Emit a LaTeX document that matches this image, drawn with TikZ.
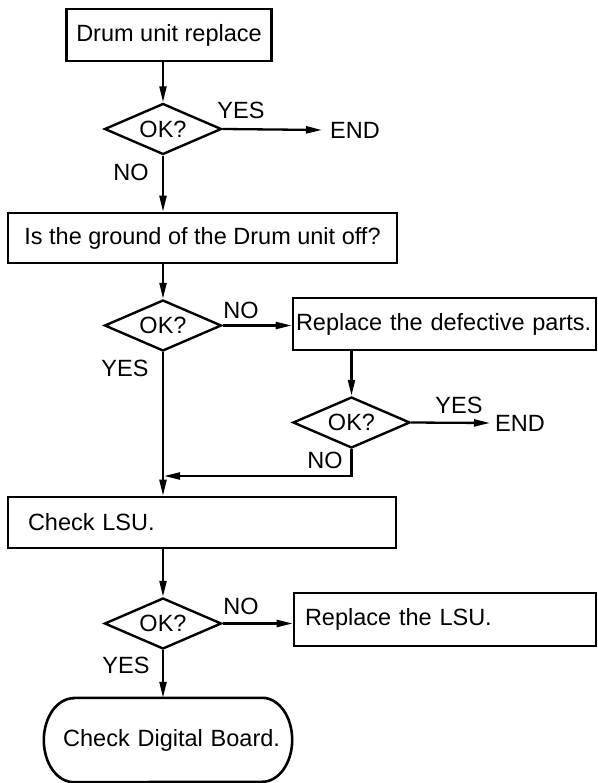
\documentclass[tikz,border=0pt]{standalone}
\usepackage{fontspec}
\setmainfont{Liberation Sans}
\usetikzlibrary{shapes.geometric, arrows.meta, positioning, calc}

\begin{document}
\begin{tikzpicture}[
    x=1pt, y=-1pt,
    font=\fontsize{23.5}{27}\selectfont,
    box/.style={rectangle, draw, line width=2.6pt, inner sep=0pt, text centered},
    decision/.style={diamond, draw, line width=2.4pt, aspect=2.3, minimum width=117pt, minimum height=51pt, inner sep=0pt},
    arrow/.style={-{Triangle[length=16pt,width=7pt]}, line width=2.3pt},
    lbl/.style={inner sep=0pt}
]
    \useasboundingbox (0,0) rectangle (597,783);

    \node[box, minimum width=205pt, minimum height=52pt] (drum) at (169,35) {Drum unit replace};
    \node[decision] (ok1) at (163,129) {OK?};
    \node[lbl, anchor=west] (end1) at (330,130) {END};
    \node[box, minimum width=389pt, minimum height=50pt] (ground) at (202.5,238) {Is the ground of the Drum unit off?};
    \node[decision] (ok2) at (163,325.5) {OK?};
    \node[box, align=left, text width=297pt, inner xsep=3pt, minimum height=52pt] (parts) at (444.5,324) {Replace the defective parts.};
    \node[decision] (ok3) at (351.5,422.5) {OK?};
    \node[lbl, anchor=west] (end3) at (495,423) {END};
    \node[box, align=left, text width=348pt, inner xsep=20pt, minimum height=51pt] (lsu) at (202,522.5) {Check LSU.};
    \node[decision] (ok4) at (163,623.5) {OK?};
    \node[box, align=left, text width=280pt, inner xsep=11pt, minimum height=53pt] (replsu) at (445,619.5) {Replace the LSU.};
    \node[align=right, text width=224pt, inner xsep=12pt, minimum height=84pt] (board) at (168,740) {Check Digital Board.};

    % branch labels
    \node[lbl] (yes1) at (241,110) {YES};
    \node[lbl] (no1) at (131,172) {NO};
    \node[lbl] (no2) at (241,310) {NO};
    \node[lbl] (yes2) at (125,368) {YES};
    \node[lbl] (yes3) at (459,405) {YES};
    \node[lbl] (no3) at (325,460) {NO};
    \node[lbl] (no4) at (241,606) {NO};
    \node[lbl] (yes4) at (126,665) {YES};

    \coordinate (merge) at (163,476);

    \draw[line width=2.6pt] ([xshift=30pt]board.north west) -- ([xshift=-30pt]board.north east)
        arc[start angle=90, end angle=-90, x radius=30pt, y radius=42pt]
        -- ([xshift=30pt]board.south west)
        arc[start angle=270, end angle=90, x radius=30pt, y radius=42pt] -- cycle;

    \draw[arrow] (drum.south -| ok1.north) -- (ok1.north);
    \draw[arrow] (ok1.east) -- ([xshift=-8pt]end1.west);
    \draw[arrow] (ok1.south) -- (ok1.south |- ground.north);
    \draw[arrow] (ground.south -| ok2.north) -- (ok2.north);
    \draw[arrow] (ok2.east) -- (ok2.east -| parts.west);
    \draw[arrow] (parts.south -| ok3.north) -- (ok3.north);
    \draw[arrow] (ok3.east) -- ([xshift=-5pt]end3.west);
    \draw[arrow, shorten >=1pt] (ok3.south) |- (merge);
    \draw[arrow] (ok2.south) -- (ok2.south |- lsu.north);
    \draw[arrow] (lsu.south -| ok4.north) -- (ok4.north);
    \draw[arrow] (ok4.east) -- (ok4.east -| replsu.west);
    \draw[arrow] (ok4.south) -- (ok4.south |- board.north);
\end{tikzpicture}
\end{document}
